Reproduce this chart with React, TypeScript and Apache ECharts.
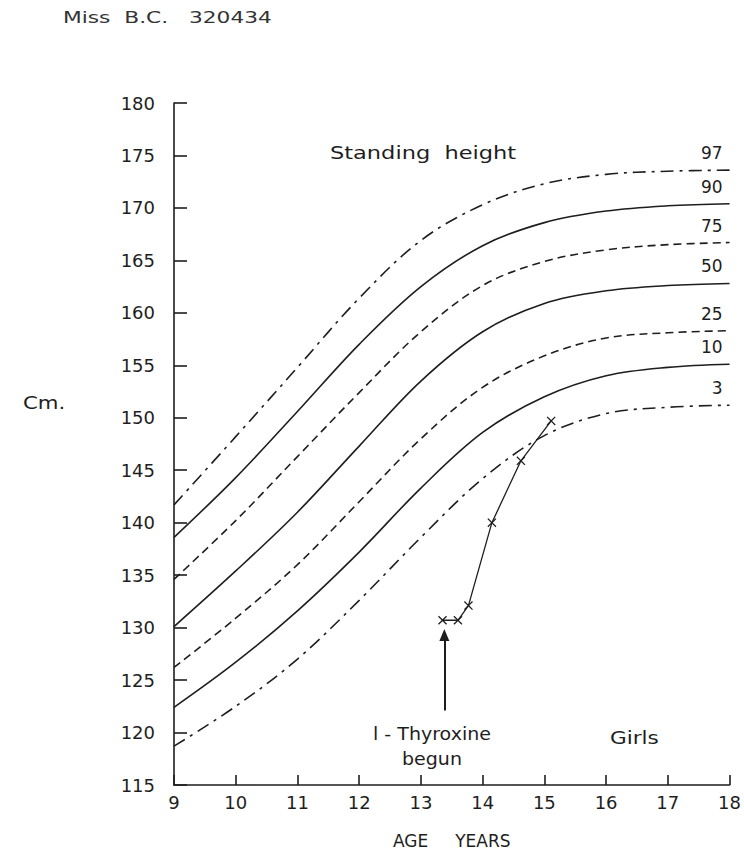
import React, { useEffect, useRef } from "react";
import * as echarts from "echarts";

const ages = [9, 10, 11, 12, 13, 14, 15, 16, 17, 18];
const centileNames = ["97", "90", "75", "50", "25", "10", "3"];
const p97 = [141.7, 148.2, 154.8, 161.4, 166.9, 170.3, 172.3, 173.2, 173.5, 173.6];
const p90 = [138.6, 144.3, 150.6, 157.0, 162.5, 166.4, 168.6, 169.7, 170.2, 170.4];
const p75 = [134.6, 140.2, 146.3, 152.4, 158.2, 162.6, 164.9, 166.0, 166.5, 166.7];
const p50 = [130.1, 135.4, 141.0, 147.3, 153.5, 158.2, 160.9, 162.1, 162.6, 162.8];
const p25 = [126.2, 130.9, 136.0, 142.0, 148.0, 152.9, 155.9, 157.6, 158.1, 158.3];
const p10 = [122.4, 126.7, 131.6, 137.2, 143.3, 148.6, 152.0, 154.0, 154.8, 155.1];
const p3 = [118.7, 122.5, 127.0, 132.6, 138.6, 144.2, 148.3, 150.4, 151.0, 151.2];
const patientAges = [13.35, 13.6, 13.77, 14.15, 14.62, 15.11];
const patientHeights = [130.7, 130.7, 132.1, 140.0, 145.9, 149.7];
const arrowAge = 13.38;
const arrowFrom = 122.1;
const arrowTo = 129.3;
const yTicks = { min: 115, max: 180, step: 5 };
const xTicks = { min: 9, max: 18, step: 1 };

const FONT = "DejaVu Sans";
const INK = "#1e1e1e";

const dashDot = [13, 6, 3, 6];
const dashed = [8, 5];

export default function App() {
  const ref = useRef<HTMLDivElement>(null);
  useEffect(() => {
    if (!ref.current) return;
    const chart = echarts.init(ref.current, null, { renderer: "svg" });
    const centiles = [p97, p90, p75, p50, p25, p10, p3];
    const styles: any[] = [dashDot, "solid", dashed, "solid", dashed, "solid", dashDot];
    const centileSeries = centiles.map((vals, i) => ({
      type: "line",
      name: centileNames[i],
      data: ages.map((a, j) => [a, vals[j]]),
      smooth: 0.35,
      showSymbol: false,
      symbol: "none",
      silent: true,
      lineStyle: { color: INK, width: 1.6, type: styles[i] },
      endLabel: {
        show: true,
        formatter: "{a}",
        align: "right",
        offset: [-15, -17],
        fontFamily: FONT,
        fontSize: 17,
        color: INK,
      },
    }));
    const crossPath =
      "path://M0,1L1,0L5,4L9,0L10,1L6,5L10,9L9,10L5,6L1,10L0,9L4,5Z";
    chart.setOption({
      animation: false,
      backgroundColor: "#ffffff",
      grid: { left: 174, right: 12, top: 103, bottom: 67 },
      xAxis: {
        type: "value",
        min: xTicks.min,
        max: xTicks.max,
        interval: xTicks.step,
        name: "AGE     YEARS",
        nameLocation: "middle",
        nameGap: 47,
        nameTextStyle: { fontFamily: FONT, fontSize: 17, color: INK },
        axisLine: { lineStyle: { color: INK, width: 1.6 } },
        axisTick: { inside: true, length: 10, lineStyle: { color: INK, width: 1.6 } },
        axisLabel: { margin: 8, fontFamily: FONT, fontSize: 18, color: INK },
        splitLine: { show: false },
      },
      yAxis: {
        type: "value",
        min: yTicks.min,
        max: yTicks.max,
        interval: yTicks.step,
        axisLine: { show: true, lineStyle: { color: INK, width: 1.6 } },
        axisTick: { show: true, inside: true, length: 13, lineStyle: { color: INK, width: 1.6 } },
        axisLabel: { margin: 19, fontFamily: FONT, fontSize: 18, color: INK },
        splitLine: { show: false },
      },
      series: [
        ...centileSeries,
        {
          type: "line",
          name: "patient",
          data: patientAges.map((a, i) => [a, patientHeights[i]]),
          symbol: crossPath,
          symbolSize: 9,
          showSymbol: true,
          itemStyle: { color: INK },
          lineStyle: { color: INK, width: 1.3 },
          markLine: {
            silent: true,
            symbol: ["none", "triangle"],
            symbolSize: [10, 12],
            label: { show: false },
            lineStyle: { color: INK, width: 2, type: "solid" },
            data: [[{ coord: [arrowAge, arrowFrom] }, { coord: [arrowAge, arrowTo] }]],
          },
        },
      ],
      graphic: [
        {
          type: "text",
          x: 63,
          y: 10,
          scaleX: 1.45,
          style: { text: "Miss  B.C.   320434", fontFamily: FONT, fontSize: 15, fill: "#333" },
        },
        {
          type: "text",
          x: 330,
          y: 144,
          scaleX: 1.25,
          style: { text: "Standing  height", fontFamily: FONT, fontSize: 18, fill: INK },
        },
        {
          type: "text",
          x: 23,
          y: 395,
          scaleX: 1.25,
          style: { text: "Cm.", fontFamily: FONT, fontSize: 17, fill: INK },
        },
        {
          type: "text",
          x: 432,
          y: 721,
          scaleX: 1.12,
          style: {
            text: "l - Thyroxine\nbegun",
            align: "center",
            fontFamily: FONT,
            fontSize: 17,
            lineHeight: 25,
            fill: INK,
          },
        },
        {
          type: "text",
          x: 610,
          y: 729,
          scaleX: 1.2,
          style: { text: "Girls", fontFamily: FONT, fontSize: 18, fill: INK },
        },
      ],
    });
    return () => chart.dispose();
  }, []);
  return (
    <div
      ref={ref}
      style={{ position: "fixed", left: 0, top: 0, width: 744, height: 854, background: "#fff" }}
    />
  );
}
